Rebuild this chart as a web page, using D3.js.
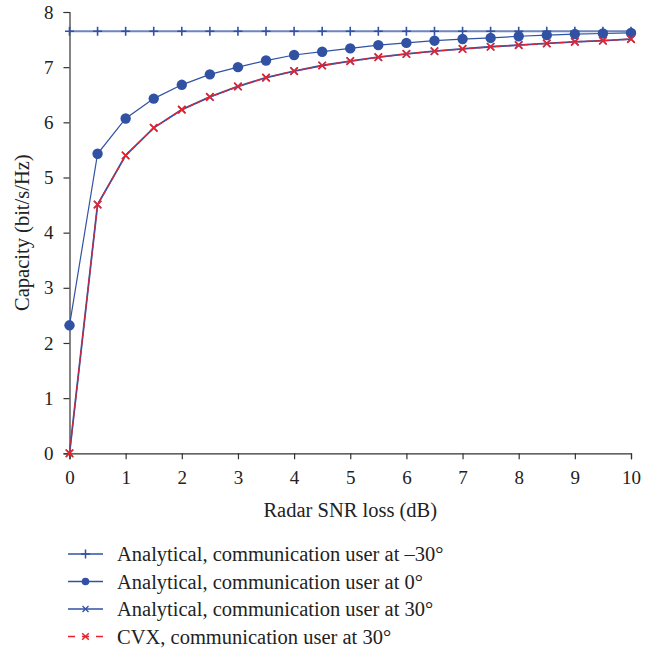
<!DOCTYPE html>
<html>
<head>
<meta charset="utf-8">
<script src="https://cdn.jsdelivr.net/npm/d3@7"></script>
<style>
  body { margin: 0; background: #fff; }
  text { font-family: "Liberation Serif", "DejaVu Serif", serif; fill: #222; }
</style>
</head>
<body>
<svg id="canvas" width="662" height="652"></svg>
<script>
var snrLoss = [0, 0.5, 1, 1.5, 2, 2.5, 3, 3.5, 4, 4.5, 5, 5.5, 6, 6.5, 7, 7.5, 8, 8.5, 9, 9.5, 10];

var capMinus30 = [7.65, 7.65, 7.65, 7.65, 7.65, 7.65, 7.65, 7.65, 7.65, 7.65, 7.65,
                  7.65, 7.65, 7.65, 7.65, 7.65, 7.65, 7.65, 7.65, 7.65, 7.65];
var cap0 = [2.32, 5.43, 6.07, 6.43, 6.68, 6.87, 7.0, 7.12, 7.22, 7.28, 7.34,
            7.4, 7.44, 7.48, 7.51, 7.53, 7.56, 7.58, 7.6, 7.61, 7.62];
var cap30 = [0, 4.51, 5.4, 5.9, 6.23, 6.46, 6.65, 6.81, 6.93, 7.03, 7.11,
             7.18, 7.24, 7.29, 7.33, 7.37, 7.4, 7.43, 7.46, 7.48, 7.51];
var cvx30 = [0, 4.51, 5.4, 5.9, 6.23, 6.46, 6.65, 6.81, 6.93, 7.03, 7.11,
             7.18, 7.24, 7.29, 7.33, 7.37, 7.4, 7.43, 7.46, 7.48, 7.51];

var xTicks = [0, 1, 2, 3, 4, 5, 6, 7, 8, 9, 10];
var yTicks = [0, 1, 2, 3, 4, 5, 6, 7, 8];

var legendLabels = [
  "Analytical, communication user at \u201330\u00b0",
  "Analytical, communication user at 0\u00b0",
  "Analytical, communication user at 30\u00b0",
  "CVX, communication user at 30\u00b0"
];

var blue = "#3152a3",
    red = "#e8232e";

var svg = d3.select("#canvas");

var x = d3.scaleLinear().domain([0, 10]).range([69.5, 631]);
var y = d3.scaleLinear().domain([0, 8]).range([453.3, 12]);

// axes
var xAxis = svg.append("g")
  .attr("transform", "translate(0," + y(0) + ")")
  .call(d3.axisBottom(x).tickValues(xTicks).tickSize(6).tickPadding(11).tickFormat(d3.format("d")));

var yAxis = svg.append("g")
  .attr("transform", "translate(" + x(0) + ",0)")
  .call(d3.axisLeft(y).tickValues(yTicks).tickSize(6).tickPadding(10).tickFormat(d3.format("d")));

[xAxis, yAxis].forEach(function(a) {
  a.select(".domain").attr("stroke", "#333").attr("stroke-width", 1.2);
  a.selectAll(".tick line").attr("stroke", "#333").attr("stroke-width", 1.2);
  a.selectAll(".tick text").style("font-family", "Liberation Serif").style("font-size", "19px").attr("fill", "#222");
});

svg.append("text")
  .attr("x", (x(0) + x(10)) / 2)
  .attr("y", 517)
  .attr("text-anchor", "middle")
  .style("font-size", "20.5px")
  .text("Radar SNR loss (dB)");

svg.append("text")
  .attr("transform", "translate(29," + (y(0) + y(8)) / 2 + ") rotate(-90)")
  .attr("text-anchor", "middle")
  .style("font-size", "20.5px")
  .text("Capacity (bit/s/Hz)");

/*
  Series
*/

function seriesPoints(vals) {
  return snrLoss.map(function(s, i) { return {x: s, y: vals[i]}; });
}

var line = d3.line()
  .x(function(d) { return x(d.x); })
  .y(function(d) { return y(d.y); });

var plot = svg.append("g");

function plusPath(size) {
  return "M" + (-size) + ",0H" + size + "M0," + (-size) + "V" + size;
}
function crossPath(size) {
  return "M" + (-size) + "," + (-size) + "L" + size + "," + size +
         "M" + (-size) + "," + size + "L" + size + "," + (-size);
}

// -30 deg
plot.append("path")
  .attr("d", line(seriesPoints(capMinus30)))
  .attr("fill", "none").attr("stroke", blue).attr("stroke-opacity", 0.7).attr("stroke-width", 2);
plot.selectAll(".plus")
  .data(seriesPoints(capMinus30))
  .enter().append("path")
  .attr("transform", function(d) { return "translate(" + x(d.x) + "," + y(d.y) + ")"; })
  .attr("d", plusPath(4.5))
  .attr("stroke", blue).attr("stroke-width", 1.6);

// 0 deg
plot.append("path")
  .attr("d", line(seriesPoints(cap0)))
  .attr("fill", "none").attr("stroke", blue).attr("stroke-width", 1.2);
plot.selectAll(".dot")
  .data(seriesPoints(cap0))
  .enter().append("circle")
  .attr("cx", function(d) { return x(d.x); })
  .attr("cy", function(d) { return y(d.y); })
  .attr("r", 5.2)
  .attr("fill", blue);

// 30 deg analytical
plot.append("path")
  .attr("d", line(seriesPoints(cap30)))
  .attr("fill", "none").attr("stroke", blue).attr("stroke-width", 1.8);
plot.selectAll(".xa")
  .data(seriesPoints(cap30))
  .enter().append("path")
  .attr("transform", function(d) { return "translate(" + x(d.x) + "," + y(d.y) + ")"; })
  .attr("d", crossPath(3.5))
  .attr("stroke", blue).attr("stroke-width", 1.5);

// 30 deg CVX
plot.append("path")
  .attr("d", line(seriesPoints(cvx30)))
  .attr("fill", "none").attr("stroke", red).attr("stroke-width", 1.3)
  .attr("stroke-dasharray", "6,3");
plot.selectAll(".xc")
  .data(seriesPoints(cvx30))
  .enter().append("path")
  .attr("transform", function(d) { return "translate(" + x(d.x) + "," + y(d.y) + ")"; })
  .attr("d", crossPath(3.8))
  .attr("stroke", red).attr("stroke-width", 1.6);

/*
  Legend
*/

var legend = svg.append("g");
var rowY = [554, 581.5, 609, 636.5];

legendLabels.forEach(function(label, i) {
  var g = legend.append("g").attr("transform", "translate(0," + rowY[i] + ")");
  if (i < 3) {
    g.append("line").attr("x1", 68).attr("x2", 103)
      .attr("stroke", blue).attr("stroke-width", 1.4);
  } else {
    g.append("line").attr("x1", 68).attr("x2", 103)
      .attr("stroke", red).attr("stroke-width", 1.4).attr("stroke-dasharray", "7,7");
  }
  if (i === 0) g.append("path").attr("transform", "translate(85.5,0)").attr("d", plusPath(4.5)).attr("stroke", blue).attr("stroke-width", 1.5);
  if (i === 1) g.append("circle").attr("cx", 85.5).attr("r", 3.8).attr("fill", blue);
  if (i === 2) g.append("path").attr("transform", "translate(85.5,0)").attr("d", crossPath(3)).attr("stroke", blue).attr("stroke-width", 1.3);
  if (i === 3) g.append("path").attr("transform", "translate(85.5,0)").attr("d", crossPath(3.3)).attr("stroke", red).attr("stroke-width", 1.5);
  g.append("text")
    .attr("x", 117)
    .attr("y", 7)
    .style("font-size", "20.5px")
    .text(label);
});
</script>
</body>
</html>
